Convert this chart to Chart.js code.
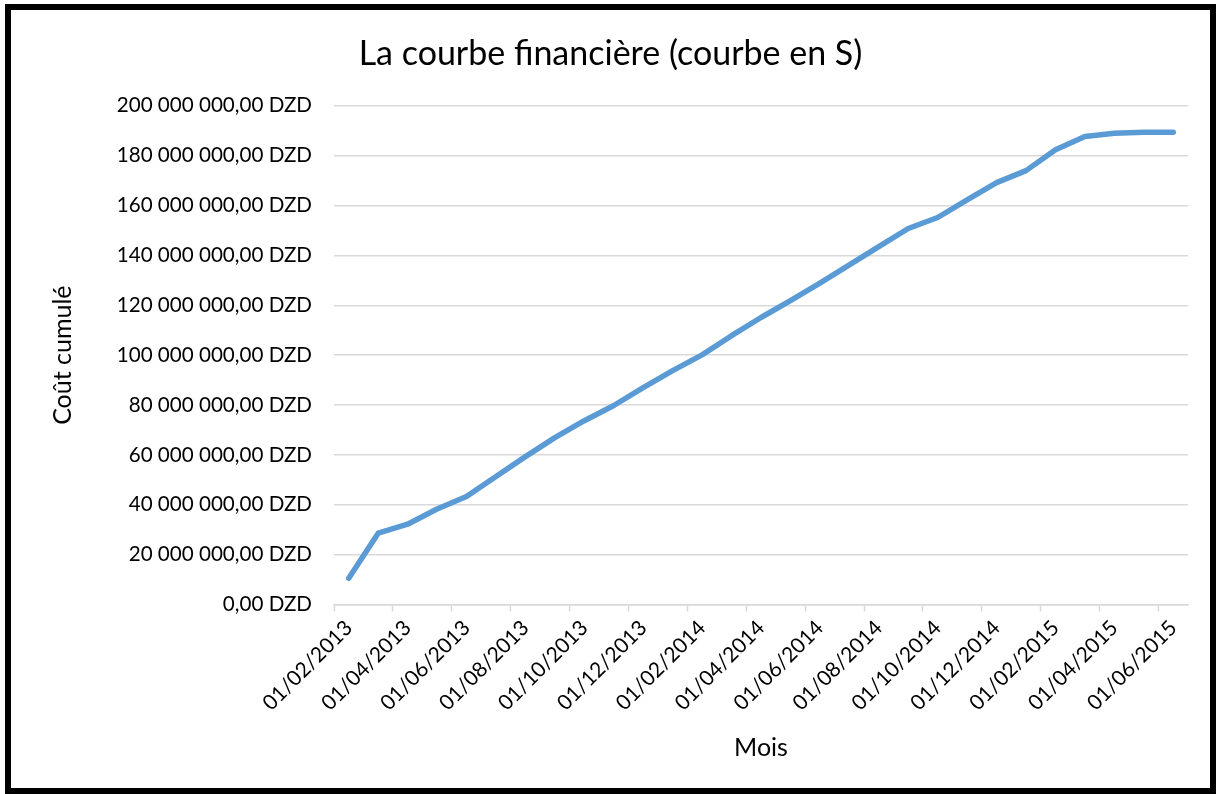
<!DOCTYPE html>
<html lang="fr">
<head>
<meta charset="utf-8">
<title>La courbe financière (courbe en S)</title>
<script src="https://cdn.jsdelivr.net/npm/chart.js@4/dist/chart.umd.min.js"></script>
<style>
  html, body { margin: 0; padding: 0; background: #fff; }
  body { width: 1218px; height: 794px; position: relative; overflow: hidden; }
  .frame { position: absolute; left: 5px; top: 4px; width: 1199px; height: 778px; border: 6px solid #000; background: #fff; }
  .frame canvas { display: block; }
</style>
</head>
<body>
<div class="frame">
  <canvas id="courbeS" width="1199" height="778"></canvas>
</div>
<script>
// Mois (axe des dates, un point par mois)
const mois = [
  '01/02/2013', '01/03/2013', '01/04/2013', '01/05/2013', '01/06/2013', '01/07/2013',
  '01/08/2013', '01/09/2013', '01/10/2013', '01/11/2013', '01/12/2013', '01/01/2014',
  '01/02/2014', '01/03/2014', '01/04/2014', '01/05/2014', '01/06/2014', '01/07/2014',
  '01/08/2014', '01/09/2014', '01/10/2014', '01/11/2014', '01/12/2014', '01/01/2015',
  '01/02/2015', '01/03/2015', '01/04/2015', '01/05/2015', '01/06/2015'
];

// Coût cumulé en DZD
const coutCumule = [
  10500000, 28600000, 32200000, 38300000, 43300000, 51300000,
  59300000, 66900000, 73700000, 79800000, 87000000, 93800000,
  100100000, 107800000, 115100000, 121900000, 128900000, 136200000,
  143500000, 150800000, 155200000, 162300000, 169200000, 174000000,
  182400000, 187700000, 189000000, 189400000, 189400000
];

// Graduations de l'axe vertical
const yMin = 0;
const yMax = 200000000;
const yPas = 20000000;

const FONT = 'Lato, "Liberation Sans", sans-serif';
const GRIS = '#d9d9d9';

function formatDZD(v) {
  const parts = Number(v).toFixed(2).split('.');
  return parts[0].replace(/\B(?=(\d{3})+(?!\d))/g, ' ') + ',' + parts[1] + ' DZD';
}

const ctx = document.getElementById('courbeS').getContext('2d');
const courbeChart = new Chart(ctx, {
  type: 'line',
  data: {
    labels: mois,
    datasets: [{
      label: 'Coût cumulé',
      data: coutCumule,
      borderColor: '#5b9bd5',
      borderWidth: 5.5,
      borderJoinStyle: 'round',
      borderCapStyle: 'round',
      pointRadius: 0,
      pointHoverRadius: 0,
      tension: 0,
      fill: false
    }]
  },
  options: {
    responsive: false,
    animation: false,
    layout: { padding: { left: 22, right: 22, top: 0, bottom: 0 } },
    plugins: {
      legend: { display: false },
      tooltip: { enabled: false },
      title: {
        display: true,
        text: 'La courbe financière (courbe en S)',
        color: '#000',
        font: { family: FONT, size: 34, weight: 'normal' },
        padding: { top: 24, bottom: 31 }
      }
    },
    scales: {
      x: {
        type: 'category',
        offset: true,
        grid: {
          offset: true,
          drawOnChartArea: false,
          drawTicks: true,
          tickLength: 7,
          tickWidth: 1.5,
          tickColor: c => (c.index % 2 === 0 ? GRIS : 'rgba(0,0,0,0)')
        },
        border: { display: true, color: GRIS, width: 1.5 },
        ticks: {
          autoSkip: false,
          minRotation: 45,
          maxRotation: 45,
          padding: 4,
          color: '#000',
          font: { family: FONT, size: 21 },
          callback: (val, i) => (i % 2 === 0 ? mois[i] : '')
        },
        title: {
          display: true,
          text: 'Mois',
          color: '#000',
          font: { family: FONT, size: 25 },
          padding: { top: 0, bottom: 25 }
        },
        afterFit: s => { s.height = 183.5; }
      },
      y: {
        min: yMin,
        max: yMax,
        grid: { color: GRIS, lineWidth: 1.5, drawTicks: false },
        border: { display: false },
        ticks: {
          stepSize: yPas,
          padding: 22,
          color: '#000',
          font: { family: FONT, size: 20.6 },
          callback: v => formatDZD(v)
        },
        title: {
          display: true,
          text: 'Coût cumulé',
          color: '#000',
          font: { family: FONT, size: 25 },
          padding: { top: 15, bottom: 0 }
        },
        afterFit: s => { s.width = 301; }
      }
    }
  }
});
</script>
</body>
</html>
